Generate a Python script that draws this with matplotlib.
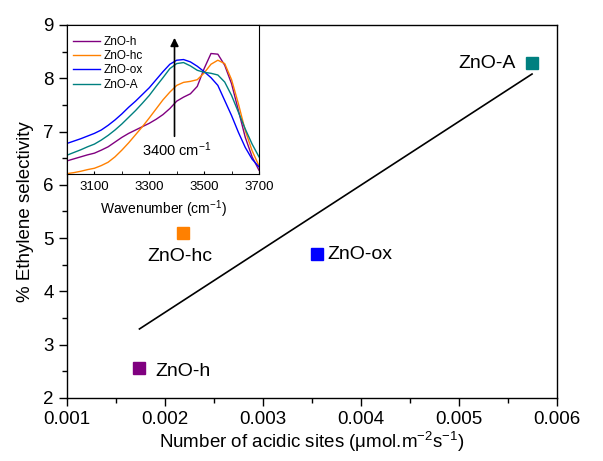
import numpy as np
import matplotlib
matplotlib.use("Agg")
import matplotlib.pyplot as plt
from matplotlib.ticker import MultipleLocator

plt.rcParams['font.family'] = ['Liberation Sans', 'DejaVu Sans']
plt.rcParams['mathtext.fontset'] = 'custom'
plt.rcParams['mathtext.rm'] = 'Liberation Sans'
plt.rcParams['mathtext.it'] = 'Liberation Sans'

# ---- main data ----
samples = ["ZnO-h", "ZnO-hc", "ZnO-ox", "ZnO-A"]
acid_sites = [0.00174, 0.00218, 0.00355, 0.00575]
ethylene_sel = [2.57, 5.10, 4.70, 8.28]
colors = ["#800080", "#FF8000", "#0000FF", "#008080"]

# ---- inset IR spectra (a.u.) ----
wavenumber = [3000, 3025, 3050, 3075, 3100, 3125, 3150, 3175, 3200, 3225,
              3250, 3275, 3300, 3325, 3350, 3375, 3400, 3425, 3450, 3475,
              3500, 3525, 3550, 3575, 3600, 3625, 3650, 3675, 3700]
ir_h = [0.40, 0.46, 0.52, 0.58, 0.63, 0.72, 0.82, 0.96, 1.10, 1.22,
        1.32, 1.42, 1.52, 1.64, 1.78, 1.96, 2.18, 2.30, 2.40, 2.62,
        3.15, 3.60, 3.58, 3.25, 2.70, 1.90, 1.10, 0.52, 0.12]
ir_hc = [0.02, 0.05, 0.09, 0.14, 0.18, 0.26, 0.36, 0.52, 0.72, 0.94,
         1.18, 1.42, 1.68, 1.95, 2.22, 2.45, 2.65, 2.74, 2.77, 2.82,
         3.02, 3.28, 3.40, 3.30, 2.82, 2.10, 1.30, 0.70, 0.25]
ir_ox = [0.92, 0.99, 1.06, 1.14, 1.22, 1.32, 1.46, 1.62, 1.80, 2.00,
         2.18, 2.38, 2.58, 2.82, 3.06, 3.28, 3.40, 3.42, 3.35, 3.22,
         3.06, 2.88, 2.65, 2.20, 1.75, 1.25, 0.80, 0.45, 0.22]
ir_A = [0.57, 0.65, 0.73, 0.82, 0.90, 1.02, 1.16, 1.32, 1.50, 1.70,
        1.90, 2.12, 2.35, 2.62, 2.88, 3.15, 3.30, 3.33, 3.23, 3.10,
        3.04, 3.01, 2.96, 2.75, 2.35, 1.85, 1.35, 0.90, 0.52]
ir_series = [ir_h, ir_hc, ir_ox, ir_A]

fig = plt.figure(figsize=(6.03, 4.61), dpi=100)
ax = fig.add_axes([0.1111, 0.1367, 0.8118, 0.8091])

# linear fit
xs = np.array(acid_sites)
ys = np.array(ethylene_sel)
m, b = np.polyfit(xs, ys, 1)
xf = np.array([xs.min(), xs.max()])
ax.plot(xf, m * xf + b, color='black', lw=1.2, zorder=2)

for x, y, c in zip(acid_sites, ethylene_sel, colors):
    ax.plot(x, y, marker='s', ms=8, color=c, ls='none', zorder=3)

fs_lab = 14
offsets = {"ZnO-h": ((11.5, -3), 'left'),
           "ZnO-hc": ((-2, -17), 'center'),
           "ZnO-ox": ((8, 0), 'left'),
           "ZnO-A": ((-11.5, 0), 'right')}
for name, x, y in zip(samples, acid_sites, ethylene_sel):
    off, ha = offsets[name]
    ax.annotate(name, (x, y), xytext=off, textcoords='offset points',
                ha=ha, va='center', fontsize=fs_lab)

ax.set_xlim(0.001, 0.006)
ax.set_ylim(2, 9)
ax.xaxis.set_major_locator(MultipleLocator(0.001))
ax.xaxis.set_minor_locator(MultipleLocator(0.0005))
ax.yaxis.set_major_locator(MultipleLocator(1))
ax.yaxis.set_minor_locator(MultipleLocator(0.5))
ax.xaxis.set_major_formatter(matplotlib.ticker.FuncFormatter(lambda v, p: f"{v:.3f}"))
ax.tick_params(which='major', direction='out', length=6, width=1, labelsize=13.5,
               top=False, right=False)
ax.tick_params(which='minor', direction='out', length=3.5, width=1, top=False, right=False)
ax.set_xlabel(r"Number of acidic sites ($\mu$mol.m$^{-2}$s$^{-1}$)", fontsize=13.5, labelpad=1)
ax.set_ylabel("% Ethylene selectivity", fontsize=13.5, labelpad=7)
for s in ax.spines.values():
    s.set_linewidth(1.0)

# ---- inset ----
axi = fig.add_axes([0.1111, 0.6219, 0.3184, 0.3239])
for name, ser, c in zip(samples, ir_series, colors):
    axi.plot(wavenumber, ser, color=c, lw=1.0, label=name)
axi.set_xlim(3000, 3700)
axi.set_ylim(0, 4.45)
axi.set_yticks([])
axi.set_xticks([3100, 3300, 3500, 3700])
axi.xaxis.set_minor_locator(MultipleLocator(100))
axi.tick_params(axis='x', which='both', direction='in', length=2, labelsize=9.5, pad=5)
axi.set_xlabel(r"Wavenumber (cm$^{-1}$)", fontsize=10, labelpad=4)
axi.legend(loc='upper left', bbox_to_anchor=(0.0, 0.968), frameon=False, fontsize=8.5,
           handlelength=2.3, handletextpad=0.3, labelspacing=0.2,
           borderaxespad=0.0, borderpad=0.5)
axi.annotate("", xy=(3392, 4.15), xytext=(3392, 1.05),
             arrowprops=dict(arrowstyle='-|>', color='black', lw=1.2,
                             mutation_scale=12))
axi.text(3400, 0.72, r"3400 cm$^{-1}$", ha='center', va='center', fontsize=10.5)

fig.savefig("out.png", dpi=100)
